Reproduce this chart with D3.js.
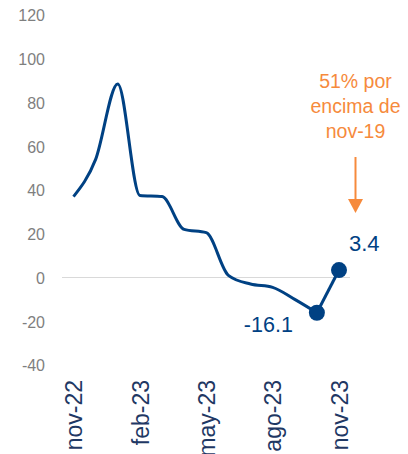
<!DOCTYPE html>
<html>
<head>
<meta charset="utf-8">
<script src="https://cdn.jsdelivr.net/npm/d3@7"></script>
<style>
  html, body { margin: 0; padding: 0; background: #fff; }
  svg { display: block; font-family: "Liberation Sans", Arial, sans-serif; }
</style>
</head>
<body>
<svg id="chart" width="408" height="454"></svg>
<script>
// ---- data ----
const months = ["nov-22","dic-22","ene-23","feb-23","mar-23","abr-23","may-23","jun-23","jul-23","ago-23","sep-23","oct-23","nov-23"];
const values = [37, 54, 88.5, 37.5, 37, 22, 20.5, 1, -3, -4.5, -10, -16.1, 3.4];
const tickLabels = ["nov-22","feb-23","may-23","ago-23","nov-23"];
const yTicks = [-40, -20, 0, 20, 40, 60, 80, 100, 120];
const highlighted = ["oct-23","nov-23"];
const noteLines = ["51% por","encima de","nov-19"];

// ---- layout ----
const svg = d3.select("#chart");
const x = d3.scalePoint().domain(months).range([73.5, 339]);
const y = d3.scaleLinear().domain([-40, 120]).range([365, 15]);
const lineColor = "#004183";
const orange = "#F68A3C";
const fmt = v => String(v);

// zero line
svg.append("line")
  .attr("x1", 62).attr("x2", 350)
  .attr("y1", y(0)).attr("y2", y(0))
  .attr("stroke", "#d9d9d9").attr("stroke-width", 1);

// y axis
const yAxis = d3.axisLeft(y).tickValues(yTicks).tickFormat(fmt).tickSize(0).tickPadding(0);
const gy = svg.append("g").attr("transform", "translate(45,0)").call(yAxis);
gy.select(".domain").remove();
gy.selectAll("text")
  .attr("fill", "#7f7f7f")
  .attr("font-size", "16px")
  .attr("font-family", "Liberation Sans, Arial, sans-serif")
  .attr("dy", "0.36em");

// x axis
const xAxis = d3.axisBottom(x).tickValues(tickLabels).tickSize(0).tickPadding(0);
const gx = svg.append("g").attr("transform", "translate(0,380)").call(xAxis);
gx.select(".domain").remove();
gx.selectAll("text")
  .attr("fill", "#1f3864")
  .attr("font-size", "23px")
  .attr("font-family", "Liberation Sans, Arial, sans-serif")
  .attr("text-anchor", "end")
  .attr("transform", "rotate(-90)")
  .attr("x", 0)
  .attr("y", 0)
  .attr("dy", "0.36em");

// smoothed line up to oct-23
const data = months.map((m, i) => ({ m, v: values[i] }));
const smoothPart = data.slice(0, data.length - 1);
const lastPart = data.slice(data.length - 2);

svg.append("path")
  .datum(smoothPart)
  .attr("fill", "none")
  .attr("stroke", lineColor)
  .attr("stroke-width", 3)
  .attr("stroke-linejoin", "round")
  .attr("d", d3.line().x(d => x(d.m)).y(d => y(d.v)).curve(d3.curveMonotoneX));

svg.append("path")
  .datum(lastPart)
  .attr("fill", "none")
  .attr("stroke", lineColor)
  .attr("stroke-width", 3)
  .attr("d", d3.line().x(d => x(d.m)).y(d => y(d.v)));

// markers
svg.selectAll("circle.mk")
  .data(data.filter(d => highlighted.includes(d.m)))
  .join("circle")
  .attr("class", "mk")
  .attr("cx", d => x(d.m))
  .attr("cy", d => y(d.v))
  .attr("r", 8)
  .attr("fill", lineColor);

// value labels
const oct = data[data.length - 2], nov = data[data.length - 1];
svg.append("text")
  .attr("x", x(oct.m) - 24).attr("y", y(oct.v) + 19)
  .attr("text-anchor", "end")
  .attr("fill", lineColor)
  .attr("font-size", "21.5px")
  .text(oct.v.toFixed(1));
svg.append("text")
  .attr("x", x(nov.m) + 10).attr("y", y(nov.v) - 19)
  .attr("text-anchor", "start")
  .attr("fill", lineColor)
  .attr("font-size", "22px")
  .text(nov.v.toFixed(1));

// annotation
const noteX = 355.5;
svg.append("g").selectAll("text")
  .data(noteLines)
  .join("text")
  .attr("x", noteX)
  .attr("y", (d, i) => 88 + i * 25.2)
  .attr("text-anchor", "middle")
  .attr("fill", orange)
  .attr("font-size", "19.5px")
  .text(d => d);

svg.append("line")
  .attr("x1", noteX).attr("x2", noteX)
  .attr("y1", 157).attr("y2", 200)
  .attr("stroke", orange).attr("stroke-width", 2);
svg.append("path")
  .attr("d", `M${noteX - 7.5},199 L${noteX + 7.5},199 L${noteX},213 Z`)
  .attr("fill", orange);
</script>
</body>
</html>
